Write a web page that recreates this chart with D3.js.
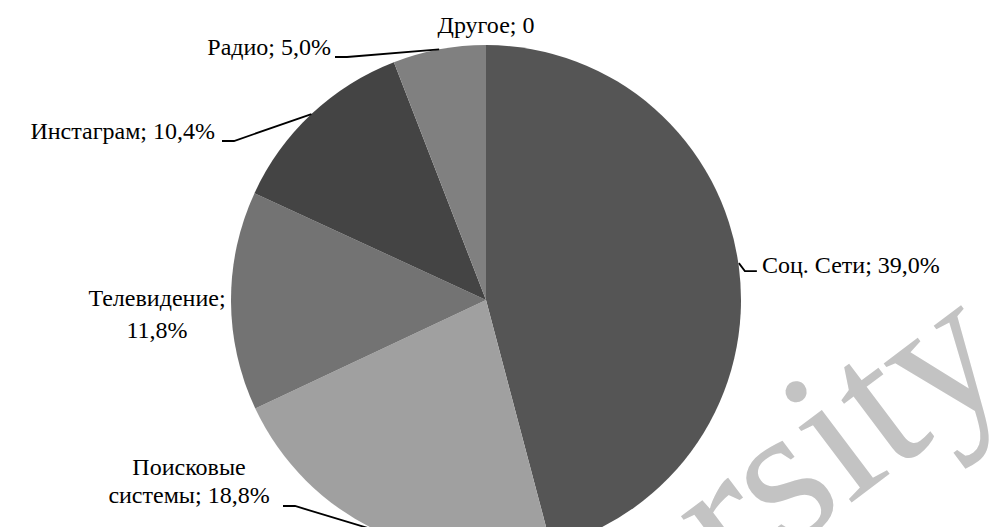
<!DOCTYPE html>
<html>
<head>
<meta charset="utf-8">
<script src="https://cdn.jsdelivr.net/npm/d3@7/dist/d3.min.js"></script>
<style>
  html body svg#chart text, html body svg#chart tspan { font-family: "Liberation Serif", Tinos, "Times New Roman", "DejaVu Serif", serif !important; }
</style>
</head>
<body style="margin:0">
<svg id="chart" width="999" height="527" font-family="Liberation Serif"></svg>
<script>
// Sources of information (shares as published in the labels)
const categories = ["Соц. Сети", "Поисковые системы", "Телевидение", "Инстаграм", "Радио", "Другое"];
const values = [39.0, 18.8, 11.8, 10.4, 5.0, 0];
const valueLabels = ["39,0%", "18,8%", "11,8%", "10,4%", "5,0%", "0"];
const colors = ["#555555", "#a0a0a0", "#737373", "#444444", "#808080", "#606060"];

const fontName = "Liberation Serif";
const cx = 486, cy = 300, R = 255;

const svg = d3.select("#chart");
const g = svg.append("g").attr("transform", `translate(${cx},${cy})`);

const pie = d3.pie().sort(null).value(d => d.value);
const arc = d3.arc().innerRadius(0).outerRadius(R);
const edge = d3.arc().innerRadius(R).outerRadius(R);

const rows = categories.map((c, i) => ({ name: c, value: values[i], label: valueLabels[i], color: colors[i] }));
const arcs = pie(rows);

g.selectAll("path.slice")
  .data(arcs)
  .join("path")
  .attr("class", "slice")
  .attr("d", arc)
  .attr("fill", d => d.data.color);

// Label layout: text lines, text position (relative to pie centre) and leader start
const layout = {
  "Соц. Сети":         { lines: ["Соц. Сети; " + valueLabels[0]], x: 276, y: -27, anchor: "start", leader: "right" },
  "Поисковые системы": { lines: ["Поисковые", "системы; " + valueLabels[1]], x: -297, y: 175, anchor: "middle", leader: "left", lx: -203, ly: 206, gap: 28 },
  "Телевидение":       { lines: ["Телевидение;", valueLabels[2]], x: -329, y: 6, anchor: "middle", leader: null, gap: 32 },
  "Инстаграм":         { lines: ["Инстаграм; " + valueLabels[3]], x: -271, y: -161, anchor: "end", leader: "left", lx: -264, ly: -159 },
  "Радио":             { lines: ["Радио; " + valueLabels[4]], x: -155, y: -245, anchor: "end", leader: "left", lx: -151, ly: -243 },
  "Другое":            { lines: ["Другое; " + valueLabels[5]], x: 0, y: -267, anchor: "middle", leader: null }
};

const fs = 24;

arcs.forEach(d => {
  const L = layout[d.data.name];
  L.lines.forEach((ln, i) => {
    g.append("text")
      .attr("x", L.x)
      .attr("y", L.y + i * (L.gap || 0))
      .attr("font-size", fs)
      .attr("font-family", fontName)
      .attr("fill", "#000")
      .attr("text-anchor", L.anchor)
      .style("font-family", `"${fontName}"`, "important")
      .text(ln);
  });

  if (L.leader) {
    const [px, py] = edge.centroid(d);
    let pts;
    if (L.leader === "right") {
      pts = [[px, py - 4], [px + 6, py + 4], [px + 18, py + 4]];
    } else {
      pts = [[L.lx, L.ly], [L.lx + 12, L.ly], [px, py]];
    }
    g.append("path")
      .attr("d", d3.line()(pts))
      .attr("fill", "none")
      .attr("stroke", "#000")
      .attr("stroke-width", 1.8);
  }
});

// Faint watermark lettering across the lower right
svg.append("text")
  .attr("transform", "translate(733,592) rotate(-37)")
  .attr("font-size", 200)
  .attr("font-family", fontName)
  .attr("fill", "#c3c3c3")
  .style("font-family", `"${fontName}"`, "important")
  .text("rsity");

// Re-apply the face once the font is confirmed available
if (document.fonts && document.fonts.load) {
  document.fonts.load(`24px "${fontName}"`, "Соц").then(() => {
    svg.selectAll("text").style("font-family", `"${fontName}"`, "important");
  });
}
</script>
</body>
</html>
